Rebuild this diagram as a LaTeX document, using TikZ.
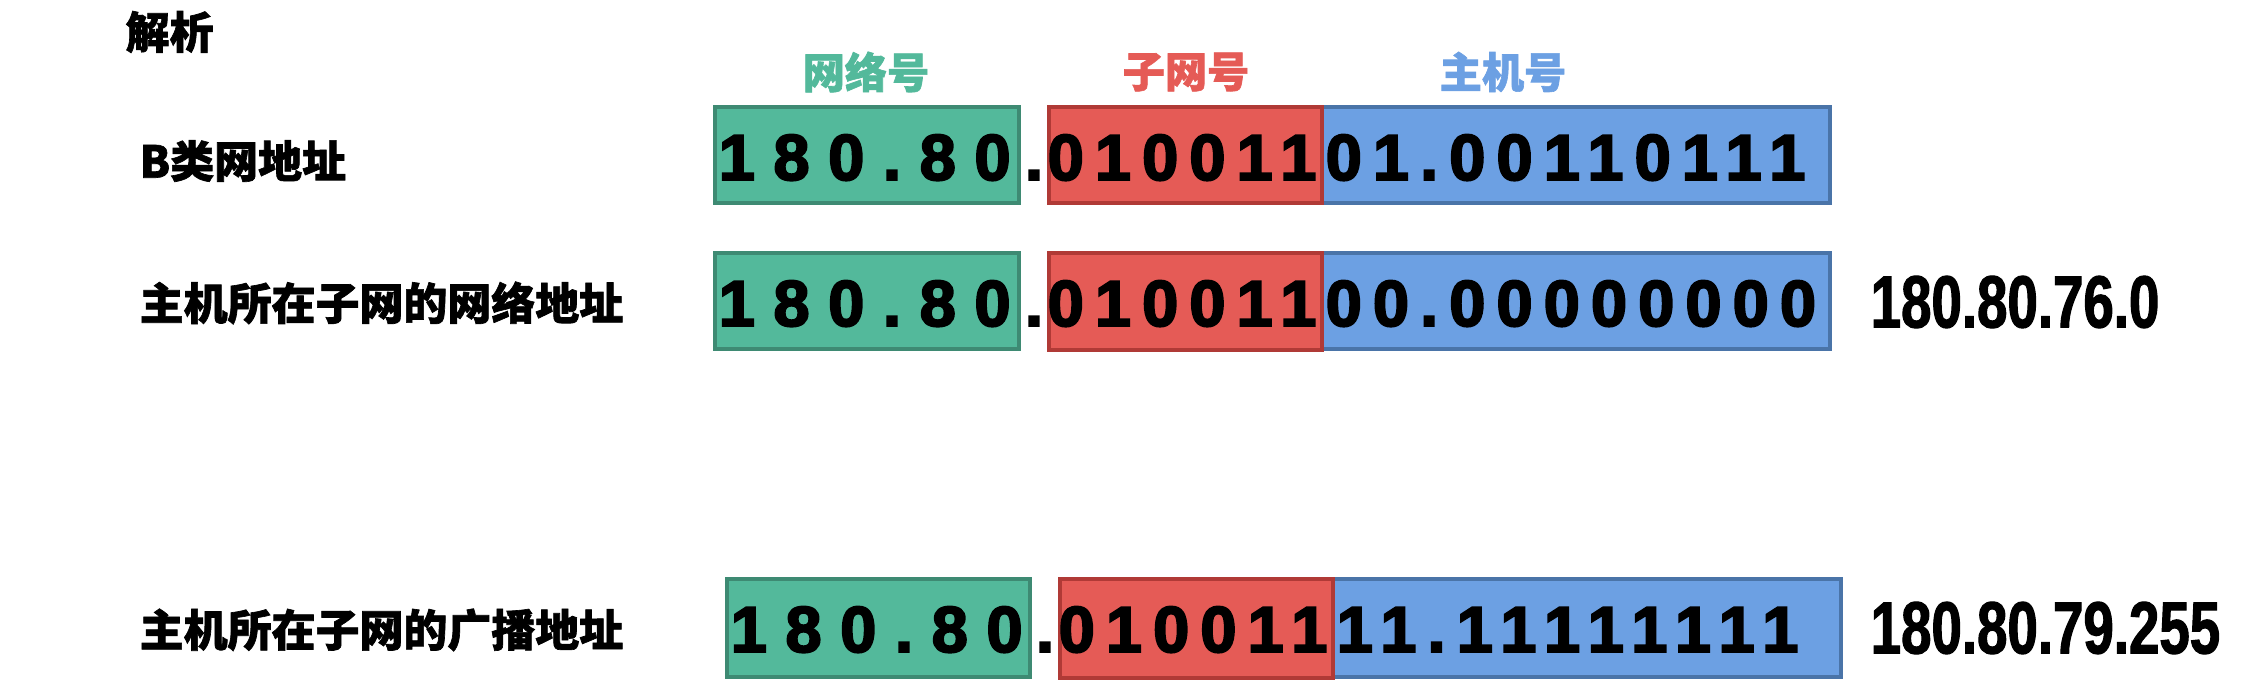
\documentclass[tikz,border=0pt]{standalone}
\usepackage{fontspec}
\setmainfont{Liberation Sans}
\newfontfamily\cjk{Noto Sans CJK SC}[BoldFont={Noto Sans CJK SC Black}, BoldFeatures={FakeBold=1.5}]
\newfontfamily\netfont{Liberation Sans}[LetterSpace=28.6, FakeBold=3]
\newfontfamily\bitsfont{Liberation Sans}[LetterSpace=17, FakeBold=3]
\newfontfamily\dotfont{Liberation Sans}[FakeBold=3]
\newfontfamily\addrfont{Liberation Sans}[FakeStretch=0.74, FakeBold=1.5]
\definecolor{netgreen}{RGB}{83,185,155}
\definecolor{netgreenline}{RGB}{62,138,115}
\definecolor{subred}{RGB}{229,91,86}
\definecolor{subredline}{RGB}{176,58,54}
\definecolor{hostblue}{RGB}{108,160,227}
\definecolor{hostblueline}{RGB}{74,116,168}
\usetikzlibrary{positioning}
\tikzset{
  cjklabel/.style={font=\cjk\bfseries\fontsize{12.5}{14}\selectfont, inner sep=0pt, anchor=west},
  headlabel/.style={font=\cjk\bfseries\fontsize{12}{14}\selectfont, inner sep=0pt},
  netbox/.style={fill=netgreen, draw=netgreenline, line width=0.9pt},
  subbox/.style={fill=subred, draw=subredline, line width=0.9pt},
  hostbox/.style={fill=hostblue, draw=hostblueline, line width=0.9pt},
  netdigits/.style={font=\netfont\bfseries\fontsize{18.5}{20}\selectfont, inner sep=0pt, anchor=base west},
  bitdigits/.style={font=\bitsfont\bfseries\fontsize{18.5}{20}\selectfont, inner sep=0pt, anchor=base west},
  dotdigit/.style={font=\dotfont\bfseries\fontsize{18.5}{20}\selectfont, inner sep=0pt, anchor=base},
  addrlabel/.style={font=\addrfont\bfseries\fontsize{21}{24}\selectfont, inner sep=0pt, anchor=west}
}

\begin{document}
\begin{tikzpicture}[x=0.01cm, y=-0.01cm]
  \useasboundingbox (0,0) rectangle (2252,692);

  % Title
  \node[cjklabel] (title) at (125,32) {解析};

  % Field headers
  \node[headlabel, text=netgreen] (hnet) at (866,72) {网络号};
  \node[headlabel, text=subred] (hsub) at (1186,72) {子网号};
  \node[headlabel, text=hostblue] (hhost) at (1503,72) {主机号};

  % Row 1: class B address
  \node[cjklabel] (lab1) at (139,161) {B类网地址};
  \draw[netbox] (715,107) rectangle (1019,203);
  \draw[hostbox] (1322,107) rectangle (1830,203);
  \draw[subbox] (1049,107) rectangle (1322,203);
  \node[netdigits] (net1) at (718,180) {180.80};
  \node[dotdigit] (dot1) at (1034,180) {.};
  \node[bitdigits] (sub1) at (1047,180) {010011};
  \node[bitdigits] (host1) at (1325,180) {01.00110111};

  % Row 2: subnet address
  \node[cjklabel] (lab2) at (139,303) {主机所在子网的网络地址};
  \draw[netbox] (715,253) rectangle (1019,349);
  \draw[hostbox] (1322,253) rectangle (1830,349);
  \draw[subbox] (1049,253) rectangle (1322,350);
  \node[netdigits] (net2) at (718,326) {180.80};
  \node[dotdigit] (dot2) at (1034,326) {.};
  \node[bitdigits] (sub2) at (1047,326) {010011};
  \node[bitdigits] (host2) at (1325,326) {00.00000000};
  \node[addrlabel] (addr2) at (1870,302) {180.80.76.0};

  % Row 3: broadcast address
  \node[cjklabel] (lab3) at (139,630) {主机所在子网的广播地址};
  \draw[netbox] (727,579) rectangle (1030,677);
  \draw[hostbox] (1333,579) rectangle (1841,677);
  \draw[subbox] (1060,579) rectangle (1333,678);
  \node[netdigits] (net3) at (730,652) {180.80};
  \node[dotdigit] (dot3) at (1045,652) {.};
  \node[bitdigits] (sub3) at (1058,652) {010011};
  \node[bitdigits] (host3) at (1336,652) {11.11111111};
  \node[addrlabel] (addr3) at (1870,628) {180.80.79.255};
\end{tikzpicture}
\end{document}
